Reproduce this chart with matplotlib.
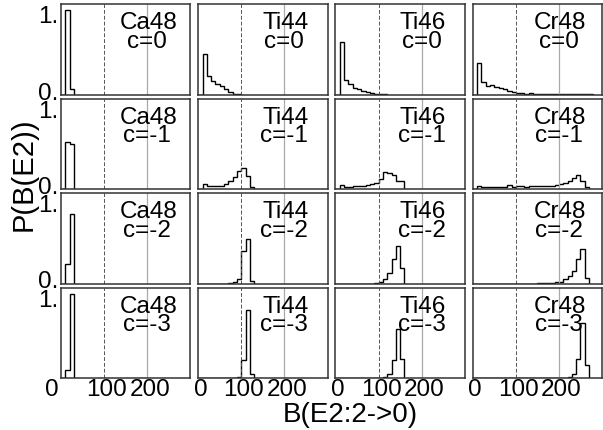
import numpy as np
import matplotlib.pyplot as plt
from matplotlib.transforms import ScaledTranslation

plt.rcParams['font.family'] = ['Liberation Sans', 'DejaVu Sans']

nuclei = ['Ca48', 'Ti44', 'Ti46', 'Cr48']
couplings = ['0', '-1', '-2', '-3']
edges = np.arange(0, 310, 10)   # B(E2) bins, width 10

# bin heights, first value is the bin 0-10
ca48_c0 = [0, 1.00, 0.07]
ca48_c1 = [0, 0.55, 0.53]
ca48_c2 = [0, 0.23, 0.82]
ca48_c3 = [0, 0.09, 0.99]

ti44_c0 = [0, 0.48, 0.22, 0.16, 0.12, 0.10, 0.06, 0.03, 0.01, 0.01]
ti44_c1 = [0, 0.06, 0.035, 0.03, 0.03, 0.035, 0.06, 0.10, 0.14, 0.21, 0.25, 0.15, 0.02]
ti44_c2 = [0]*7 + [0.01, 0.015, 0.05, 0.38, 0.53, 0.03]
ti44_c3 = [0]*9 + [0.01, 0.21, 0.80, 0.05]

ti46_c0 = [0, 0.615, 0.17, 0.12, 0.08, 0.06, 0.04, 0.03, 0.02, 0.01, 0.01, 0.005]
ti46_c1 = [0, 0.05, 0.02, 0.025, 0.03, 0.035, 0.04, 0.05, 0.06, 0.07, 0.12, 0.20, 0.19, 0.16, 0.10, 0.10]
ti46_c2 = [0]*9 + [0.01, 0.015, 0.05, 0.13, 0.29, 0.44, 0.18]
ti46_c3 = [0]*11 + [0.01, 0.05, 0.21, 0.58, 0.22]

cr48_c0 = [0, 0.37, 0.15, 0.10, 0.11, 0.09, 0.08, 0.06, 0.04, 0.03, 0.02, 0.02, 0.01, 0.015,
           0.01, 0.01, 0.01, 0.01, 0.005, 0.01, 0.01, 0.005, 0.01, 0.005, 0.005, 0.005, 0.005, 0.005]
cr48_c1 = [0, 0.035, 0.02, 0.02, 0.02, 0.02, 0.02, 0.02, 0.045, 0.025, 0.03, 0.03, 0.025, 0.03,
           0.03, 0.035, 0.035, 0.04, 0.04, 0.045, 0.06, 0.07, 0.09, 0.13, 0.16, 0.09, 0.02]
cr48_c2 = [0]*15 + [0.005]*4 + [0.015, 0.02, 0.05, 0.09, 0.15, 0.29, 0.41, 0.07]
cr48_c3 = [0]*22 + [0.01, 0.05, 0.22, 0.65, 0.15]

hists = [[ca48_c0, ti44_c0, ti46_c0, cr48_c0],
         [ca48_c1, ti44_c1, ti46_c1, cr48_c1],
         [ca48_c2, ti44_c2, ti46_c2, cr48_c2],
         [ca48_c3, ti44_c3, ti46_c3, cr48_c3]]

fig, axes = plt.subplots(4, 4, figsize=(6.03, 4.31), dpi=100)
fig.subplots_adjust(left=61/603, right=602/603, top=1-5/431, bottom=1-379/431,
                    wspace=8/129.5, hspace=4/90.5)

def shift(label, dx, dy):
    # nudge a tick label by dx, dy pixels
    label.set_transform(label.get_transform() +
                        ScaledTranslation(dx/100, dy/100, fig.dpi_scale_trans))

fs = 17.5
for i in range(4):
    for j in range(4):
        ax = axes[i, j]
        h = hists[i][j]
        ax.axvline(100, color='#555555', ls=(0, (4, 2)), lw=0.7)
        ax.axvline(200, color='#aaaaaa', lw=0.9)
        ax.stairs(h, edges[:len(h)+1], color='k', lw=1)
        ax.set_xlim(0, 300)
        ax.set_ylim(0, 1.07)
        for s in ax.spines.values():
            s.set_color('#333333')
            s.set_linewidth(1.1)
        ax.text(0.675, 0.733, nuclei[j], transform=ax.transAxes, ha='center',
                va='baseline', fontsize=fs)
        ax.text(0.665, 0.53, 'c=' + couplings[i], transform=ax.transAxes, ha='center',
                va='baseline', fontsize=fs)
        ax.tick_params(length=0, labelsize=fs)
        if j == 0:
            ax.set_yticks([0, 1])
            if i < 3:
                ax.set_yticklabels(['0.', '1.'])
            else:
                ax.set_yticklabels(['', '1.'])
            ax.tick_params(axis='y', pad=2)
            lo, hi = ax.get_yticklabels()
            shift(lo, 0, 4.5)
            shift(hi, 0, -4)
        else:
            ax.set_yticks([])
        if i == 3:
            ax.set_xticks([0, 100, 200])
            ax.set_xticklabels(['0', '100', '200'])
            ax.tick_params(axis='x', pad=0)
            labs = ax.get_xticklabels()
            for k, lab in enumerate(labs):
                shift(lab, -9.3 if (j == 0 and k == 0) else 2.5, 0)
        else:
            ax.set_xticks([])

fig.text(24/603, 1-174.5/431, 'P(B(E2))', rotation=90, ha='center', va='center', fontsize=21)
fig.text(350/603, 1-415/431, 'B(E2:2->0)', ha='center', va='center', fontsize=20)

fig.savefig('out.png', dpi=100)
